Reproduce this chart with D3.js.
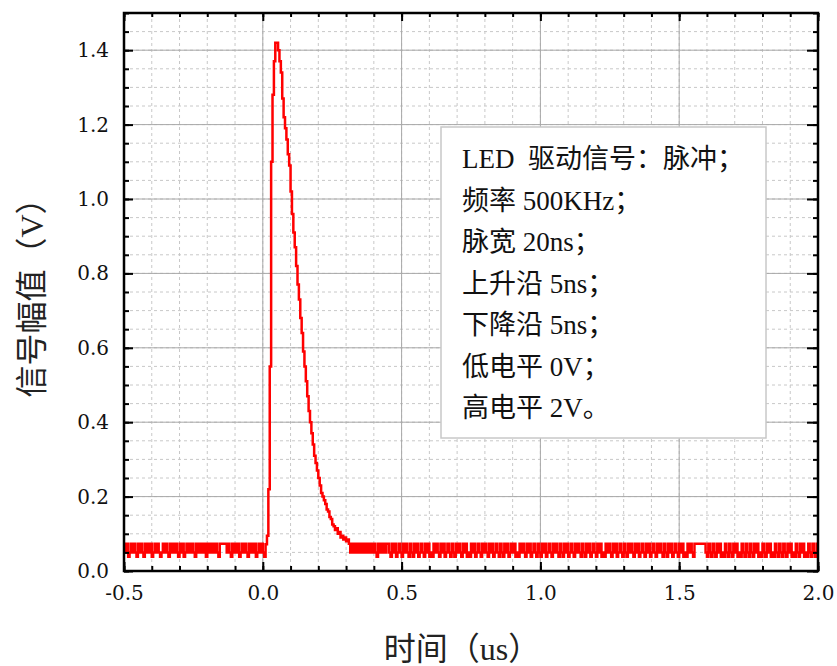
<!DOCTYPE html>
<meta charset="utf-8">
<head>
<title>LED pulse</title>
<script src="https://d3js.org/d3.v7.min.js"></script>
<style>
  body { margin: 0; background: #fff; }
  .tick text { font-family: "DejaVu Serif", serif; font-size: 20px; fill: #111; }
</style>
</head>
<body>
<div id="chart"></div>
<script>
    // sampling of the scope trace
    let dt = 0.005;

    // baseline noise levels, one char per sample (H / M / L)
    let levels = { H: 0.073, M: 0.050, L: 0.038 };
    let preStart = -0.5, preEnd = 0.010;
    let preCodes = "HMHLMHMHMLHMHMLHMHMH" + "LMHMHMLMHMHMLHMHMHML" + "HMHLMHMHMHMLHMHMHMHL" +
                   "HMHMHMHMLH" + "HHHH" + "MHMLHMHMHLMHMHMLHMHM" + "HLMHMHMLHMHM";
    let postStart = 0.310, postEnd = 2.0;
    let postCodes = "HMHMHMHMHMHMHMHMHMHMLHMHMHMH" +
                    "HMLHMHLMHMLHMHMLHMLHMHLMHMLHMHLMLHMHM" + "LHMHLMHMLHMLHMHMLHMHLMLHMHLMHMLHMHMLH" +
                    "MHLMHMLHMLHMHLMHMHLMLHMHMLHMHLMHMLHML" + "HMHLMHMLHMHMLHMLHMHLMHMLHMHMLHMLHMHLM" +
                    "HMLHMHLMLHMHMLHMHLMHMLHMLHMHMLHMHLMHM" + "LHMHLMHMLHMHMLHMLHMHLMHMLHMHLMLHMHMLH" +
                    "HHHHHHH" +
                    "MLHMLHMLHMHLMLHMLHMLHMHLMLHMLHMLHMLHM" + "HLMLHMLHMHLMLHMLHMLHMLHMHLMLHMLHMHLML" +
                    "HMLHMLHMHLMLHMLHMLHMLHMHLMLHMLHM";

    // pulse itself
    let pulseT = [0.010,0.015,0.020,0.025,0.030,0.035,0.040,0.045,0.050,0.055,
                  0.060,0.065,0.070,0.075,0.080,0.085,0.090,0.095,0.100,0.105,
                  0.110,0.115,0.120,0.125,0.130,0.135,0.140,0.145,0.150,0.155,
                  0.160,0.165,0.170,0.175,0.180,0.185,0.190,0.195,0.200,0.205,
                  0.210,0.215,0.220,0.225,0.230,0.235,0.240,0.245,0.250,0.255,
                  0.260,0.265,0.270,0.275,0.280,0.285,0.290,0.295,0.300,0.305];
    let pulseV = [0.072,0.095,0.22,0.55,1.10,1.28,1.37,1.42,1.42,1.40,
                  1.37,1.34,1.27,1.22,1.19,1.16,1.12,1.09,1.02,0.96,
                  0.91,0.87,0.82,0.77,0.73,0.68,0.64,0.59,0.55,0.51,
                  0.47,0.43,0.40,0.37,0.34,0.31,0.29,0.27,0.25,0.23,
                  0.21,0.20,0.19,0.18,0.165,0.16,0.145,0.14,0.125,0.12,
                  0.11,0.115,0.10,0.105,0.09,0.095,0.085,0.09,0.08,0.085];

    let xTicks = [-0.5, 0.0, 0.5, 1.0, 1.5, 2.0];
    let yTicks = [0.0, 0.2, 0.4, 0.6, 0.8, 1.0, 1.2, 1.4];
    let legendLines = ["LED  驱动信号：脉冲；", "频率 500KHz；", "脉宽 20ns；", "上升沿 5ns；",
                       "下降沿 5ns；", "低电平 0V；", "高电平 2V。"];

    let w = 837, h = 666;
    let m = { left: 124, right: 19, top: 13, bottom: 95 };
    let iw = w - m.left - m.right, ih = h - m.top - m.bottom;

    // build trace
    let trace = [];
    for (let i = 0; i < preCodes.length; i++) {
        let t = preStart + i * dt;
        if (t >= preEnd - 1e-9) break;
        trace.push([t, levels[preCodes[i]]]);
    }
    pulseT.forEach((t, i) => trace.push([t, pulseV[i]]));
    for (let i = 0; i < postCodes.length; i++) {
        let t = postStart + i * dt;
        if (t > postEnd + 1e-9) break;
        trace.push([t, levels[postCodes[i]]]);
    }

    let x = d3.scaleLinear().domain([-0.5, 2.0]).range([0, iw]);
    let y = d3.scaleLinear().domain([0, 1.5]).range([ih, 0]);

    let svg = d3.select("#chart").append("svg")
        .attr("width", w).attr("height", h);
    let g = svg.append("g").attr("transform", `translate(${m.left},${m.top})`);

    let xMinor = d3.range(-0.5, 2.0001, 0.1);
    let yMinor = d3.range(0, 1.5001, 0.05);

    // minor grid (dashed)
    g.selectAll(".gx").data(xMinor).enter().append("line")
        .attr("x1", d => x(d)).attr("x2", d => x(d)).attr("y1", 0).attr("y2", ih)
        .attr("stroke", "#c8c8c8").attr("stroke-dasharray", "3,3");
    g.selectAll(".gy").data(yMinor).enter().append("line")
        .attr("y1", d => y(d)).attr("y2", d => y(d)).attr("x1", 0).attr("x2", iw)
        .attr("stroke", "#c8c8c8").attr("stroke-dasharray", "3,3");

    // major grid (solid)
    g.selectAll(".Gx").data(xTicks).enter().append("line")
        .attr("x1", d => x(d)).attr("x2", d => x(d)).attr("y1", 0).attr("y2", ih)
        .attr("stroke", "#a8a8a8");
    g.selectAll(".Gy").data(yTicks.concat([1.5])).enter().append("line")
        .attr("y1", d => y(d)).attr("y2", d => y(d)).attr("x1", 0).attr("x2", iw)
        .attr("stroke", "#a8a8a8");

    // legend box
    g.append("rect")
        .attr("x", 441 - m.left).attr("y", 127 - m.top)
        .attr("width", 325).attr("height", 311)
        .attr("fill", "#fff").attr("stroke", "#c8c8c8").attr("stroke-width", 1.5);
    g.selectAll(".leg").data(legendLines).enter().append("text")
        .attr("x", 462 - m.left)
        .attr("y", (d, i) => 168 - m.top + i * 41.5)
        .style("font-family", "'Liberation Serif', 'Noto Sans CJK SC', serif")
        .style("font-size", "27px")
        .style("white-space", "pre")
        .attr("fill", "#111")
        .text(d => d);

    // trace
    g.append("clipPath").attr("id", "clip").append("rect")
        .attr("width", iw).attr("height", ih);
    g.append("path")
        .datum(trace)
        .attr("clip-path", "url(#clip)")
        .attr("fill", "none")
        .attr("stroke", "#ff0000")
        .attr("stroke-width", 2.5)
        .attr("d", d3.line().x(d => x(d[0])).y(d => y(d[1])).curve(d3.curveStepAfter));

    // axes: major and minor ticks, pointing inward
    let fmt = d => d3.format(".1f")(d).replace("−", "-");
    function axes(gen, tr, vals, size, labels) {
        let a = g.append("g").attr("transform", tr)
            .call(gen.tickValues(vals).tickSize(size).tickPadding(labels ? 15 : 0)
                     .tickFormat(labels ? fmt : ""));
        a.select(".domain").remove();
        a.selectAll("line").attr("stroke", "#000").attr("stroke-width", 2);
        return a;
    }
    axes(d3.axisBottom(x), `translate(0,${ih})`, xTicks, -9, true);
    axes(d3.axisBottom(x), `translate(0,${ih})`, xMinor, -5, false);
    axes(d3.axisTop(x), "translate(0,0)", xTicks, -8, false);
    axes(d3.axisTop(x), "translate(0,0)", xMinor, -4, false);
    axes(d3.axisLeft(y), "translate(0,0)", yTicks, -9, true);
    axes(d3.axisLeft(y), "translate(0,0)", yMinor, -5, false);
    axes(d3.axisRight(y), `translate(${iw},0)`, yTicks, -11, false);
    axes(d3.axisRight(y), `translate(${iw},0)`, yMinor, -5, false);

    g.append("rect").attr("width", iw).attr("height", ih)
        .attr("fill", "none").attr("stroke", "#000").attr("stroke-width", 2.5);

    // titles
    svg.append("text")
        .attr("x", 462).attr("y", 660)
        .attr("text-anchor", "middle")
        .style("font-family", "'Liberation Serif', 'Noto Sans CJK SC', serif")
        .style("font-size", "32px").attr("fill", "#222")
        .text("时间（us）");
    svg.append("text")
        .attr("transform", "translate(43,290) rotate(-90)")
        .attr("text-anchor", "middle")
        .style("font-family", "'Liberation Serif', 'Noto Sans CJK SC', serif")
        .style("font-size", "32px").attr("fill", "#222")
        .text("信号幅值（V）");
</script>
</body>
